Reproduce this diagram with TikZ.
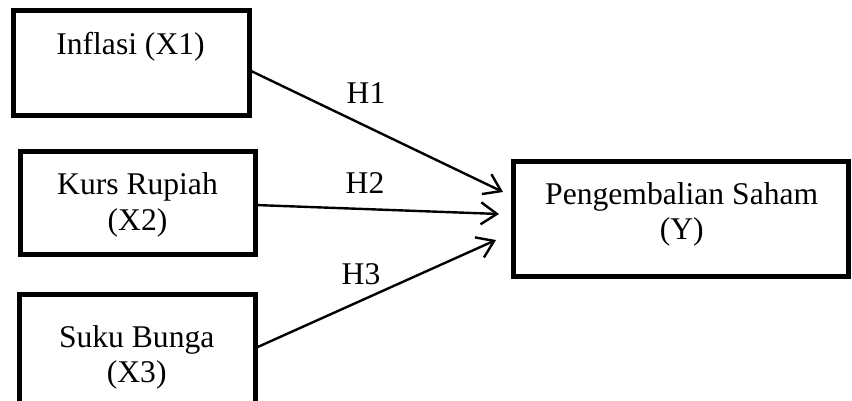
\documentclass[tikz,border=0pt]{standalone}
\usepackage{fontspec}
\setmainfont{Liberation Serif}
\usetikzlibrary{arrows.meta}
\begin{document}
\begin{tikzpicture}[x=0.5pt,y=-0.5pt,
  every node/.style={font=\fontsize{15.8pt}{17.5pt}\selectfont},
  box/.style={draw=black,line width=2.5pt,rectangle,inner sep=0pt,outer sep=0pt},
  txt/.style={inner sep=0pt,outer sep=0pt,align=center,anchor=base},
  arr/.style={draw=black,line width=1.2pt,-{Straight Barb[length=8pt,width=11pt,line width=1.2pt]}},
  hyp/.style={inner sep=0pt,anchor=base}]
  \clip (0,0) rectangle (852,401);
  \useasboundingbox (0,0) rectangle (852,401);

  % independent variables
  \node[box,minimum width=117.75pt,minimum height=52.5pt] (x1) at (131.25,63) {};
  \node[box,minimum width=117.5pt,minimum height=51.5pt] (x2) at (137.5,203) {};
  \node[box,minimum width=118pt,minimum height=62.75pt] (x3) at (137.5,357.25) {};
  % dependent variable
  \node[box,minimum width=167.75pt,minimum height=57pt] (yv) at (680.75,219) {};

  % labels (base = baseline of the last line)
  \node[txt] (x1t) at (130.5,55) {Inflasi (X1)};
  \node[txt] (x2t) at (137.5,230) {Kurs Rupiah\\(X2)};
  \node[txt] (x3t) at (136.7,382) {Suku Bunga\\(X3)};
  \node[txt] (yvt) at (681.7,240) {Pengembalian Saham\\(Y)};

  % hypothesis paths
  \draw[arr] ([yshift=-3.5pt]x1.east) -- ([shift={(-10,-27)}]yv.west);
  \draw[arr] ([yshift=-1pt]x2.east) -- ([shift={(-14,-5)}]yv.west);
  \draw[arr] ([shift={(0,-9.25)}]x3.east) -- ([shift={(-17,21)}]yv.west);

  \node[hyp] (h1) at (366,104) {H1};
  \node[hyp] (h2) at (365,193) {H2};
  \node[hyp] (h3) at (361,285) {H3};
\end{tikzpicture}
\end{document}
